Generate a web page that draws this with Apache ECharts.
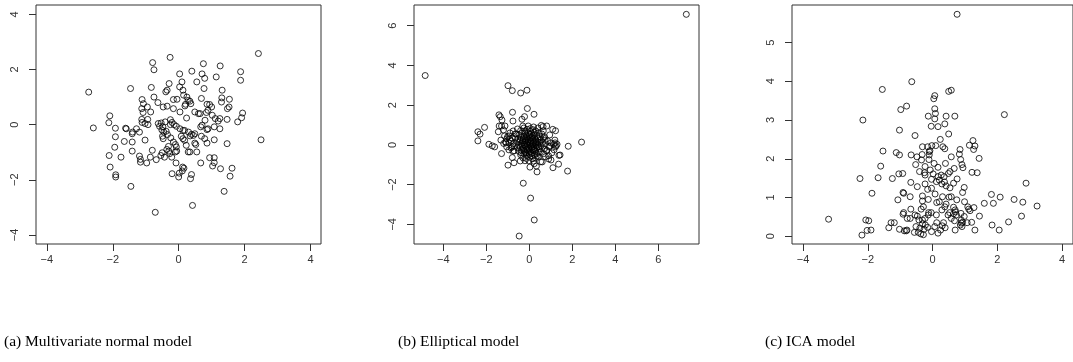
<!DOCTYPE html>
<html>
<head>
<meta charset="utf-8">
<script src="https://cdn.jsdelivr.net/npm/echarts@6/dist/echarts.min.js"></script>
<style>
  html, body { margin: 0; padding: 0; background: #fff; }
  #chart { width: 1073px; height: 362px; }
</style>
</head>
<body>
<div id="chart"></div>
<script>
// Panel captions
const captions = ['(a) Multivariate normal model', '(b) Elliptical model', '(c) ICA model'];

// Tick values for each panel
const normalXTicks = [-4, -2, 0, 2, 4];
const normalYTicks = [-4, -2, 0, 2, 4];
const ellipticalXTicks = [-4, -2, 0, 2, 4, 6];
const ellipticalYTicks = [-4, -2, 0, 2, 4, 6];
const icaXTicks = [-4, -2, 0, 2, 4];
const icaYTicks = [0, 1, 2, 3, 4, 5];

// Plot ranges (data range widened by 4% on each side)
const normalXRange = [-4.33, 4.32];
const normalYRange = [-4.33, 4.34];
const ellipticalXRange = [-5.36, 7.89];
const ellipticalYRange = [-4.99, 7.04];
const icaXRange = [-4.34, 4.34];
const icaYRange = [-0.2, 5.97];

// (a) samples from the multivariate normal model
const normalPts = [
  [2.42,2.58],[-2.73,1.18],[-2.59,-0.12],[2.50,-0.55],[-0.71,-3.18],[0.42,-2.93],[-1.45,-2.24],[1.38,-2.42],
  [-0.79,2.25],[-0.75,1.99],[-0.26,2.44],[0.75,2.21],[1.26,2.13],[0.40,1.94],[1.88,1.92],[1.88,1.61],
  [1.14,1.73],[0.03,1.84],[0.71,1.84],[0.79,1.68],[0.55,1.55],[0.10,1.55],[-1.46,1.31],[-0.83,1.35],
  [0.13,1.25],[-0.39,1.19],[-0.35,1.25],[1.32,1.25],[0.77,1.31],[0.03,1.37],[0.15,1.07],[0.25,1.00],
  [0.69,0.95],[1.31,0.97],[1.54,0.92],[-1.11,0.91],[-0.75,1.00],[-1.07,0.76],[-0.63,0.80],[-0.47,0.64],
  [-0.16,0.91],[-0.05,0.92],[0.29,0.88],[0.34,0.85],[0.21,0.74],[0.19,0.68],[0.37,0.76],[0.86,0.74],
  [0.94,0.73],[1.00,0.64],[1.30,0.82],[1.48,0.58],[1.53,0.64],[-1.12,0.58],[-0.95,0.64],[-0.85,0.46],
  [-1.08,0.44],[-0.35,0.67],[-0.16,0.58],[0.04,0.46],[0.49,0.46],[0.60,0.40],[0.65,0.40],[0.89,0.52],
  [0.84,0.44],[1.02,0.34],[1.11,0.22],[1.25,0.22],[1.20,0.13],[1.94,0.42],[1.91,0.25],[1.79,0.10],
  [1.47,0.19],[0.24,0.24],[0.80,0.16],[-0.94,0.19],[-1.12,0.19],[-1.11,0.08],[-2.09,0.32],[-2.12,0.07],
  [-1.92,-0.13],[-1.61,-0.13],[-1.59,-0.15],[-1.28,-0.15],[-1.40,-0.27],[-1.41,-0.33],[-1.19,-0.27],[-1.92,-0.44],
  [-1.65,-0.61],[-1.41,-0.63],[-1.02,-0.56],[-1.94,-0.82],[-1.41,-0.96],[-2.11,-1.12],[-1.75,-1.18],[-1.19,-1.14],
  [-1.16,-1.26],[-1.16,-1.36],[-0.97,-1.39],[-0.80,-0.93],[-0.86,-1.18],[-0.68,-1.27],[-2.08,-1.54],[-1.91,-1.82],
  [-1.91,-1.90],[-0.62,0.04],[-0.58,-0.06],[-0.53,0.06],[-0.48,-0.08],[-0.51,-0.19],[-0.45,-0.27],[-0.49,-0.42],
  [-0.47,-0.51],[-0.41,0.10],[-0.25,0.18],[-0.20,0.08],[-0.25,0.00],[-0.14,0.00],[-0.07,-0.06],[-0.38,-0.24],
  [-0.34,-0.36],[-0.24,-0.48],[-0.16,-0.63],[-0.10,-0.72],[-0.07,-0.81],[-0.31,-0.79],[-0.36,-0.90],[-0.30,-0.96],
  [-0.27,-1.05],[-0.50,-1.02],[-0.54,-1.12],[-0.43,-1.18],[-0.21,-1.18],[-0.10,-0.99],[-0.06,-0.96],[-0.08,-1.39],
  [-0.20,-1.78],[0.02,-1.76],[0.00,-1.90],[0.11,-1.68],[0.12,-1.54],[0.16,-1.58],[0.13,-0.51],[0.08,-0.42],
  [0.04,-0.15],[0.13,-0.21],[0.18,-0.57],[0.23,-0.75],[0.29,-0.99],[0.34,-0.99],[0.18,-0.21],[0.30,-0.27],
  [0.35,-0.41],[0.39,-0.35],[0.45,-0.39],[0.49,-0.33],[0.52,-0.72],[0.49,-0.67],[0.55,-0.99],[0.39,-1.81],
  [0.36,-1.96],[0.67,-0.08],[0.71,-0.02],[0.69,-0.42],[0.79,-0.51],[0.86,-0.67],[0.67,-1.39],[0.86,-0.18],
  [0.89,-0.15],[1.08,-0.08],[1.08,-0.55],[1.25,-0.15],[1.47,-0.69],[0.94,-1.20],[1.08,-1.20],[1.08,-1.38],
  [1.03,-1.50],[1.27,-1.60],[1.62,-1.58],[1.56,-1.87],[-0.93,0.00],[-1.02,0.04],[-0.29,1.49]
];

// (b) samples from the elliptical model
const ellipticalPts = [
  [-4.84,3.49],[7.30,6.57],[-0.99,2.98],[-0.79,2.73],[-0.40,2.61],[-0.11,2.75],[-0.09,1.83],[-0.78,1.64],
  [0.22,1.54],[-0.22,1.42],[-0.34,1.29],[-1.41,1.51],[-1.35,1.42],[-1.27,1.25],[-0.76,1.20],[-1.40,0.95],
  [-1.29,0.95],[-1.13,0.95],[-2.08,0.88],[-2.39,0.66],[-2.29,0.54],[-2.39,0.20],[-1.88,0.03],[-1.72,-0.05],
  [-1.61,-0.10],[-1.44,0.66],[-1.32,0.24],[-1.29,-0.44],[-1.19,0.07],[-1.09,0.10],[-1.01,0.41],[-0.91,0.27],
  [-0.82,-0.10],[-0.76,-0.32],[-0.99,-1.02],[-0.71,-0.90],[-0.79,-0.64],[-0.42,-0.81],[0.03,-1.12],[0.23,-0.95],
  [0.33,-1.07],[0.36,-1.36],[0.53,-0.85],[0.60,-0.86],[0.90,-0.71],[1.01,-0.76],[1.10,-1.15],[1.36,-0.97],
  [1.43,-0.51],[1.38,-0.53],[1.78,-1.32],[1.81,-0.07],[2.43,0.14],[1.22,0.71],[1.09,0.78],[0.81,0.95],
  [0.56,0.98],[0.64,0.92],[1.19,0.24],[1.13,0.03],[1.29,0.03],[1.21,-0.10],[0.90,-0.10],[-0.28,-1.93],
  [0.06,-2.68],[0.23,-3.78],[-0.47,-4.59],[0.73,0.24],[0.82,-0.27],[0.95,-0.07],[0.51,-0.36],[0.67,-0.44],
  [0.43,-0.61],
  [-0.55,0.80],[-0.40,0.72],[-0.25,0.85],[-0.10,0.78],[0.05,0.82],[0.18,0.76],[0.30,0.70],[0.45,0.62],[0.58,0.55],
  [-0.60,0.55],[-0.48,0.50],[-0.35,0.58],[-0.20,0.62],[-0.05,0.60],[0.10,0.58],[0.22,0.52],[0.35,0.48],[0.50,0.42],
  [-0.65,0.35],[-0.52,0.30],[-0.38,0.38],[-0.25,0.42],[-0.12,0.40],[0.00,0.45],[0.12,0.38],[0.25,0.34],[0.40,0.30],[0.55,0.25],
  [-0.58,0.15],[-0.45,0.18],[-0.30,0.22],[-0.18,0.20],[-0.05,0.25],[0.08,0.20],[0.20,0.15],[0.32,0.18],[0.46,0.10],[0.62,0.12],
  [-0.50,0.00],[-0.38,0.05],[-0.24,0.02],[-0.12,0.08],[0.02,0.04],[0.14,0.00],[0.28,0.05],[0.40,-0.02],[0.55,-0.05],
  [-0.55,-0.15],[-0.42,-0.12],[-0.28,-0.18],[-0.15,-0.10],[-0.02,-0.15],[0.10,-0.12],[0.22,-0.18],[0.35,-0.15],[0.48,-0.20],
  [-0.48,-0.32],[-0.35,-0.28],[-0.20,-0.35],[-0.08,-0.30],[0.05,-0.35],[0.18,-0.28],[0.30,-0.32],[0.42,-0.38],
  [-0.40,-0.50],[-0.25,-0.45],[-0.12,-0.52],[0.00,-0.48],[0.12,-0.55],[0.25,-0.50],[0.38,-0.55],
  [-0.30,-0.65],[-0.15,-0.68],[0.02,-0.62],[0.15,-0.70],[0.28,-0.65],
  [-0.05,0.95],[0.20,0.90],[-0.30,0.95],[0.40,0.85],[0.66,0.35],[0.70,-0.20],[-0.70,-0.05],[0.75,0.05],
  [-1.15,0.45],[-1.05,0.30],[-0.95,0.45],[-0.85,0.20],[-0.80,0.35],[-0.95,0.10],[-1.10,0.15],[-0.75,0.05],
  [-0.85,-0.15],[-0.70,-0.30],[-0.95,-0.25],[-1.05,-0.10],[-0.65,0.55],[-0.90,0.60],[-0.75,0.70],[-1.20,0.75],
  [0.70,0.40],[0.85,0.20],[0.95,0.50],[1.00,0.10],[0.80,-0.30],[1.05,-0.40],[1.20,0.10],[1.25,-0.05],
  [0.90,-0.55],[0.75,-0.60],[1.15,-0.25],[0.65,0.70],
  [-0.18,0.30],[-0.08,0.32],[0.04,0.34],[0.16,0.28],[-0.32,0.10],[-0.20,0.12],[-0.06,0.14],[0.06,0.10],
  [0.18,0.08],[0.30,0.12],[-0.34,-0.06],[-0.20,-0.04],[-0.08,-0.02],[0.06,-0.06],[0.20,-0.08],[0.32,-0.04],
  [-0.26,-0.26],[-0.12,-0.22],[0.00,-0.24],[0.12,-0.22],[0.24,-0.26],[-0.16,-0.40],[-0.02,-0.40],[0.10,-0.42],
  [-0.14,0.50],[0.02,0.52],[0.16,0.46],[-0.28,0.30],[0.28,0.26],[0.40,0.14],[-0.42,0.26],[0.44,-0.10],
  [-0.38,-0.40],[0.34,-0.45],[0.06,0.68],[-0.22,0.70],[0.24,0.62],[-0.02,-0.80],[0.20,-0.82],[-0.20,-0.80]
];

// (c) samples from the ICA model
const icaPts = [
  [0.76,5.73],[-0.64,3.99],[-1.55,3.79],[-2.15,3.00],[-0.98,3.27],[-0.80,3.36],[0.07,3.63],[0.04,3.55],
  [0.50,3.74],[0.58,3.77],[0.07,3.29],[0.09,3.17],[-0.13,3.10],[0.07,3.03],[0.42,3.10],[0.69,3.10],
  [2.22,3.14],[-1.02,2.74],[-0.04,2.84],[0.17,2.83],[0.38,2.90],[-0.54,2.60],[0.50,2.64],[0.24,2.50],
  [1.25,2.47],[1.14,2.35],[1.31,2.33],[1.27,2.24],[-0.15,2.31],[-0.02,2.34],[0.10,2.34],[0.32,2.31],
  [-0.31,2.31],[-0.08,2.21],[0.85,2.24],[0.83,2.12],[0.87,1.98],[1.44,2.01],[0.91,1.85],[0.94,1.77],
  [0.38,2.26],[-1.53,2.20],[-1.12,2.16],[-1.02,2.10],[-0.66,2.10],[-0.48,2.05],[-0.32,2.11],[-0.10,2.18],
  [-0.10,2.10],[-0.34,1.97],[-0.11,1.98],[0.58,2.05],[-0.52,1.85],[-1.60,1.81],[-0.23,1.80],[0.05,1.88],
  [0.40,1.88],[0.17,1.78],[0.67,1.75],[-0.40,1.67],[-0.25,1.64],[-0.07,1.71],[0.49,1.62],[0.54,1.67],
  [1.22,1.65],[1.38,1.64],[-1.04,1.61],[-0.92,1.62],[-0.23,1.58],[0.02,1.61],[0.17,1.54],[0.27,1.58],
  [0.36,1.54],[-0.03,1.47],[0.12,1.41],[0.21,1.45],[0.29,1.35],[0.42,1.30],[0.37,1.40],[-2.24,1.49],
  [-1.68,1.51],[-1.24,1.49],[-0.67,1.39],[-0.23,1.35],[-0.47,1.28],[0.76,1.48],[0.65,1.37],[0.54,1.25],
  [0.98,1.26],[-0.03,1.24],[-0.15,1.21],[2.89,1.37],[-1.87,1.11],[-0.91,1.13],[-0.89,1.11],[0.93,1.13],
  [-0.31,1.04],[-0.69,1.02],[0.08,1.09],[0.31,1.02],[0.51,1.01],[0.58,1.02],[-1.07,0.94],[-0.31,0.91],
  [-0.13,0.95],[0.13,0.87],[0.21,0.89],[0.75,0.94],[0.99,0.89],[1.82,1.08],[2.09,1.01],[1.88,0.85],
  [1.60,0.85],[2.52,0.95],[2.79,0.88],[3.23,0.78],[-0.28,0.76],[0.38,0.76],[0.42,0.83],[0.65,0.75],
  [0.70,0.68],[1.09,0.76],[1.28,0.74],[1.16,0.66],[1.12,0.70],[-0.67,0.70],[-0.89,0.61],[-0.91,0.57],
  [-0.04,0.61],[-0.35,0.70],[-0.12,0.61],[0.29,0.68],[0.53,0.61],[0.65,0.58],[0.71,0.63],[0.88,0.59],
  [0.98,0.51],[1.45,0.52],[2.75,0.52],[-0.78,0.46],[-0.54,0.55],[-0.47,0.52],[-0.42,0.42],[-0.23,0.46],
  [-0.13,0.55],[-0.31,0.42],[0.12,0.55],[0.48,0.55],[0.74,0.55],[0.58,0.46],[0.68,0.40],[0.89,0.42],
  [0.93,0.36],[1.21,0.36],[0.89,0.34],[-3.21,0.44],[-2.06,0.42],[-1.97,0.40],[-1.28,0.35],[-1.18,0.35],
  [-1.35,0.22],[-1.02,0.18],[-0.87,0.14],[-0.81,0.14],[-0.79,0.16],[-2.02,0.15],[-1.90,0.16],[-2.18,0.03],
  [-0.69,0.46],[-0.56,0.10],[-0.44,0.10],[-0.39,0.21],[-0.31,0.32],[-0.26,0.18],[-0.22,0.29],[-0.28,0.04],
  [-0.36,0.06],[-0.03,0.12],[0.07,0.25],[0.13,0.35],[0.17,0.08],[0.25,0.16],[0.30,0.27],[0.39,0.22],
  [0.34,0.35],[0.70,0.16],[0.86,0.29],[0.91,0.25],[1.07,0.35],[1.31,0.16],[1.84,0.29],[2.06,0.16],
  [2.35,0.37],[-0.15,0.23],[-0.51,0.25]
];

const INK = '#333';
const minus = v => String(v).replace('-', '\u2212');

// Each panel: a framed plotting region 285 x 239 px
const panelLeft = [36, 414, 792];
const panels = [
  { pts: normalPts, xr: normalXRange, yr: normalYRange, xt: normalXTicks, yt: normalYTicks },
  { pts: ellipticalPts, xr: ellipticalXRange, yr: ellipticalYRange, xt: ellipticalXTicks, yt: ellipticalYTicks },
  { pts: icaPts, xr: icaXRange, yr: icaYRange, xt: icaXTicks, yt: icaYTicks }
];

const grid = [], xAxis = [], yAxis = [], series = [];
panels.forEach((p, i) => {
  grid.push({
    left: panelLeft[i], top: 5, width: 285, height: 239,
    show: true, borderColor: INK, borderWidth: 1, backgroundColor: 'transparent'
  });
  xAxis.push({
    type: 'value', gridIndex: i, min: p.xr[0], max: p.xr[1], position: 'bottom',
    axisLine: { show: false, onZero: false }, splitLine: { show: false },
    axisTick: { show: true, length: 7, customValues: p.xt, lineStyle: { color: INK, width: 1 } },
    axisLabel: {
      customValues: p.xt, formatter: minus, margin: 10,
      fontFamily: 'Liberation Sans, Arial, sans-serif', fontSize: 11, color: INK
    }
  });
  yAxis.push({
    type: 'value', gridIndex: i, min: p.yr[0], max: p.yr[1], position: 'left',
    axisLine: { show: false, onZero: false }, splitLine: { show: false },
    axisTick: { show: true, length: 7, customValues: p.yt, lineStyle: { color: INK, width: 1 } },
    axisLabel: {
      customValues: p.yt, formatter: minus, rotate: 90, margin: 16,
      fontFamily: 'Liberation Sans, Arial, sans-serif', fontSize: 11, color: INK
    }
  });
  series.push({
    type: 'scatter', xAxisIndex: i, yAxisIndex: i, data: p.pts,
    symbol: 'circle', symbolSize: 6, silent: true,
    itemStyle: { color: 'rgba(0,0,0,0)', borderColor: '#000', borderWidth: 1 }
  });
});

const captionLeft = [4, 398, 765];
const title = captions.map((t, i) => ({
  text: t, left: captionLeft[i], top: 334,
  textStyle: { fontFamily: 'Liberation Serif, serif', fontWeight: 'normal', fontSize: 15.5, color: '#000' },
  padding: 0
}));

const chart = echarts.init(document.getElementById('chart'), null, { renderer: 'canvas' });
chart.setOption({ animation: false, title, grid, xAxis, yAxis, series });
</script>
</body>
</html>
